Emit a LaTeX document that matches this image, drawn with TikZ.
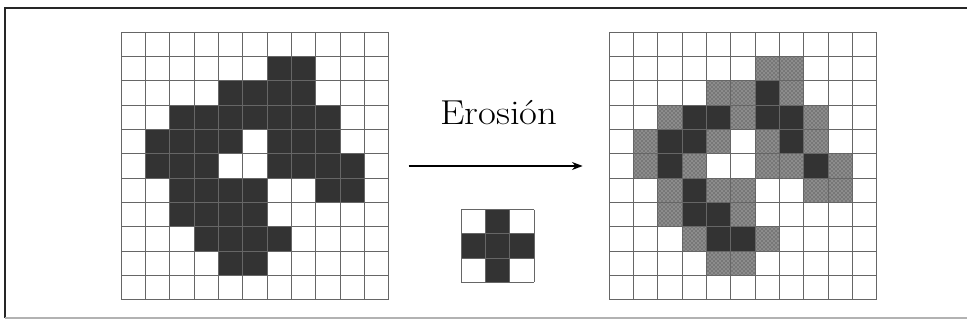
\documentclass[tikz,border=0pt]{standalone}
\usepackage{tikz}
\usetikzlibrary{positioning,calc,arrows.meta,patterns}

\newcommand{\csz}{18.225pt}

\begin{document}
\begin{tikzpicture}[
    gridbox/.style={
        inner sep=0pt,
        outer sep=0pt,
        minimum width=11*\csz,
        minimum height=11*\csz
    },
    sebox/.style={gridbox, minimum width=3*\csz, minimum height=3*\csz},
    gridline/.style={draw=black!60, line width=0.75pt},
    full/.style={fill=black!80},
    removed/.style={fill=black!45, postaction={pattern=crosshatch dots, pattern color=black!80}},
    arrow/.style={-{Stealth[length=8pt,width=6pt]}, line width=1pt},
    frame/.style={line width=1.5pt, black!85}
]
\useasboundingbox (-191.25pt,-117.75pt) rectangle (534pt,124.5pt);

% ============================================================
% MARCO
% ============================================================
\draw[frame] (534pt,118.5pt) -- (-187.5pt,118.5pt) -- (-187.5pt,-114pt);
\draw[gray!60, line width=0.8pt] (-187.5pt,-114pt) -- (534pt,-114pt);

% ============================================================
% IMAGEN ORIGINAL
% ============================================================
\node[gridbox] (orig) {};

\foreach \r/\cols in {1/{6,7}, 2/{4,...,7}, 3/{2,...,8}, 4/{1,2,3,4,6,7,8},
                      5/{1,2,3,6,7,8,9}, 6/{2,3,4,5,8,9}, 7/{2,...,5},
                      8/{3,...,6}, 9/{4,5}}
    \foreach \c in \cols
        \fill[full] ($(orig.north west)+(\c*\csz,-\r*\csz)$) rectangle ++(\csz,-\csz);

\foreach \i in {0,...,11} {
    \draw[gridline] ($(orig.north west)+(\i*\csz,0)$) -- ++(0,-11*\csz);
    \draw[gridline] ($(orig.north west)+(0,-\i*\csz)$) -- ++(11*\csz,0);
}

% ============================================================
% RESULTADO DE LA EROSION
% ============================================================
\node[gridbox, right=165.5pt of orig] (result) {};

\foreach \r/\cols in {1/{6,7}, 2/{4,5,7}, 3/{2,5,8}, 4/{1,4,6,8},
                      5/{1,3,6,7,9}, 6/{2,4,5,8,9}, 7/{2,5}, 8/{3,6}, 9/{4,5}}
    \foreach \c in \cols
        \path[removed] ($(result.north west)+(\c*\csz,-\r*\csz)$) rectangle ++(\csz,-\csz);

\foreach \r/\cols in {2/{6}, 3/{3,4,6,7}, 4/{2,3,7}, 5/{2,8}, 6/{3}, 7/{3,4}, 8/{4,5}}
    \foreach \c in \cols
        \fill[full] ($(result.north west)+(\c*\csz,-\r*\csz)$) rectangle ++(\csz,-\csz);

\foreach \i in {0,...,11} {
    \draw[gridline] ($(result.north west)+(\i*\csz,0)$) -- ++(0,-11*\csz);
    \draw[gridline] ($(result.north west)+(0,-\i*\csz)$) -- ++(11*\csz,0);
}

% ============================================================
% OPERACION Y ELEMENTO ESTRUCTURANTE
% ============================================================
\coordinate (mid) at ($(orig.east)!0.5!(result.west)$);

\node[font=\fontsize{26}{30}\selectfont] (op) at ([yshift=40pt]mid) {\scalebox{1.12}[1]{Erosión}};
\draw[arrow, shorten <=15pt, shorten >=20pt] (orig.east) -- (result.west);

\node[sebox] (se) at ([xshift=-1pt, yshift=-60pt]mid) {};
\foreach \r/\c in {0/1, 1/0, 1/1, 1/2, 2/1}
    \fill[full] ($(se.north west)+(\c*\csz,-\r*\csz)$) rectangle ++(\csz,-\csz);
\foreach \i in {0,...,3} {
    \draw[gridline] ($(se.north west)+(\i*\csz,0)$) -- ++(0,-3*\csz);
    \draw[gridline] ($(se.north west)+(0,-\i*\csz)$) -- ++(3*\csz,0);
}

\end{tikzpicture}
\end{document}
